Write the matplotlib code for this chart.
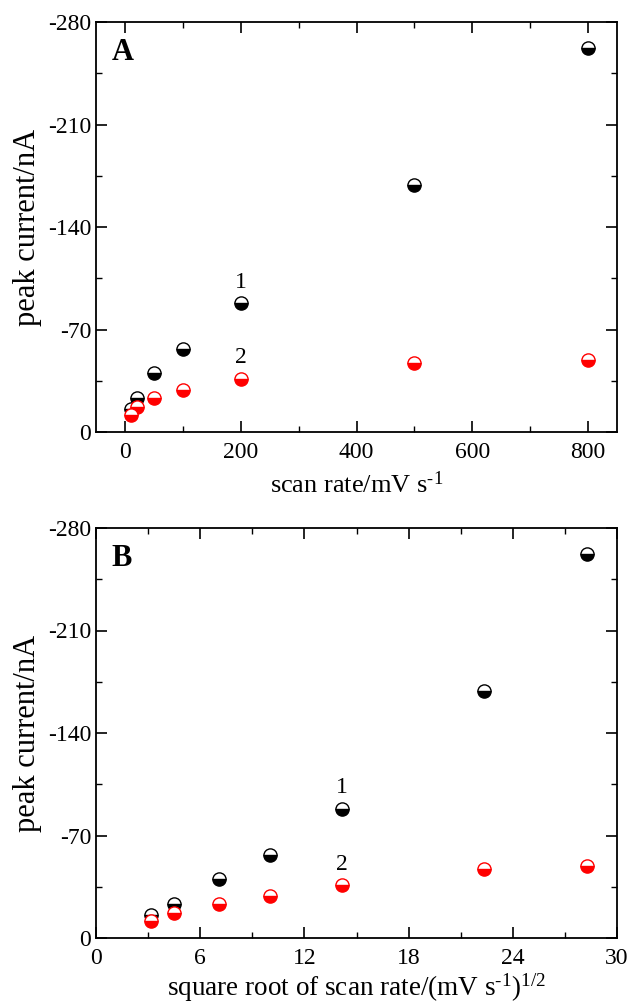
import matplotlib
matplotlib.use("Agg")
import matplotlib.pyplot as plt
import numpy as np
from matplotlib.ticker import MultipleLocator, FuncFormatter

plt.rcParams['font.family'] = ['Liberation Serif', 'DejaVu Serif']
plt.rcParams['mathtext.fontset'] = 'custom'
plt.rcParams['mathtext.rm'] = 'Liberation Serif'
plt.rcParams['mathtext.it'] = 'Liberation Serif:italic'
plt.rcParams['mathtext.default'] = 'regular'
plt.rcParams['axes.unicode_minus'] = False

scan_rate = [10, 20, 50, 100, 200, 500, 800]
sqrt_scan_rate = [3.16, 4.47, 7.07, 10.0, 14.14, 22.36, 28.28]
peak_1 = [-16, -23, -40, -57, -88, -169, -262]
peak_2 = [-11.5, -17, -23, -28.7, -36, -47, -49]

fig = plt.figure(figsize=(6.3, 10.02), dpi=100)
W, H = 630, 1002
axA = fig.add_axes([96 / W, 1 - 432 / H, (617 - 96) / W, 410 / H])
axB = fig.add_axes([96 / W, 1 - 938 / H, (617 - 96) / W, 410 / H])

def style(ax):
    ax.set_ylim(0, -280)
    ax.yaxis.set_major_locator(MultipleLocator(70))
    ax.yaxis.set_minor_locator(MultipleLocator(35))
    ax.yaxis.set_major_formatter(FuncFormatter(lambda v, p: f'{int(round(v))}'))
    ax.tick_params(which='both', direction='in', top=True, right=True, labelsize=17)
    ax.tick_params(axis='x', which='major', pad=7)
    ax.tick_params(which='major', length=8, width=1.2)
    ax.tick_params(which='minor', length=4, width=1.0)
    for s in ax.spines.values():
        s.set_linewidth(1.3)
    ax.set_ylabel('peak current/nA', fontsize=22)
    ax.yaxis.set_label_coords(-0.103, 0.5)

def markers(ax, x):
    ax.plot(x, peak_1, linestyle='none', marker='o', markersize=9.5, fillstyle='bottom',
            markerfacecolor='black', markerfacecoloralt='white', markeredgecolor='black',
            markeredgewidth=1.0)
    ax.plot(x, peak_2, linestyle='none', marker='o', markersize=9.5, fillstyle='bottom',
            markerfacecolor='red', markerfacecoloralt='white', markeredgecolor='red',
            markeredgewidth=1.0)

markers(axA, scan_rate)
axA.set_xlim(-50, 850)
axA.xaxis.set_major_locator(MultipleLocator(200))
axA.xaxis.set_minor_locator(MultipleLocator(100))
style(axA)
axA.set_xlabel('scan rate/mV s$^{\u20101}$', fontsize=19, labelpad=6)
axA.text(200, -102, '1', ha='center', va='center', fontsize=17)
axA.text(200, -51, '2', ha='center', va='center', fontsize=17)
axA.text(0.03, 0.925, 'A', transform=axA.transAxes, fontsize=22, fontweight='bold', ha='left', va='center')

markers(axB, sqrt_scan_rate)
axB.set_xlim(0, 30)
axB.xaxis.set_major_locator(MultipleLocator(6))
axB.xaxis.set_minor_locator(MultipleLocator(3))
style(axB)
axB.set_xlabel('square root of scan rate/(mV s$^{\u20101}$)$^{1/2}$', fontsize=19.5, labelpad=2)
axB.text(14.14, -103, '1', ha='center', va='center', fontsize=17)
axB.text(14.14, -50.5, '2', ha='center', va='center', fontsize=17)
axB.text(0.03, 0.925, 'B', transform=axB.transAxes, fontsize=22, fontweight='bold', ha='left', va='center')

fig.savefig('out.png', dpi=100)
